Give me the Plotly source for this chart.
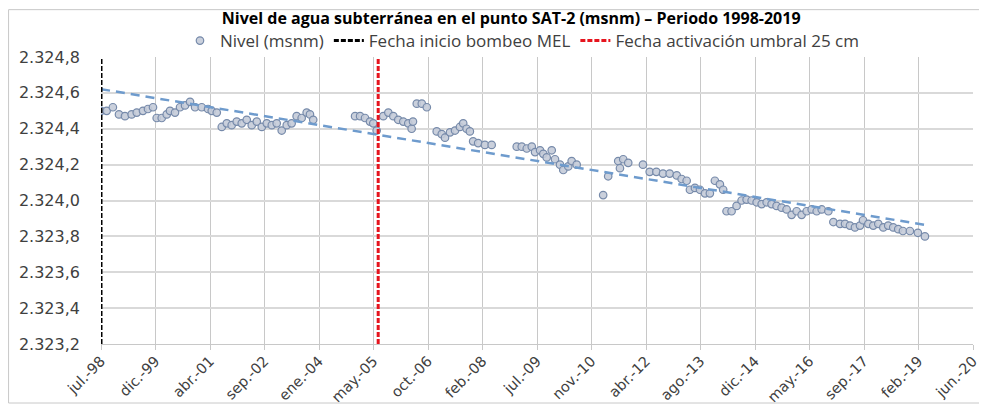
import numpy as np
import pandas as pd
import plotly.graph_objects as go

fechas = [
    "1998-07-25", "1998-09-14", "1998-11-10", "1999-01-05", "1999-03-01", "1999-05-01",
    "1999-06-17", "1999-08-13", "1999-09-28", "1999-11-13", "1999-12-17", "2000-02-01",
    "2000-03-18", "2000-04-17", "2000-06-02", "2000-07-18", "2000-09-02", "2000-10-18",
    "2000-12-03", "2001-02-02", "2001-04-01", "2001-05-05", "2001-06-20", "2001-08-05",
    "2001-09-20", "2001-11-04", "2001-12-20", "2002-02-04", "2002-03-22", "2002-05-07",
    "2002-06-22", "2002-08-07", "2002-09-22", "2002-11-07", "2002-12-22", "2003-02-06",
    "2003-03-24", "2003-05-08", "2003-06-23", "2003-08-08", "2003-09-23", "2003-10-23",
    "2003-11-22",
    "2004-12-10", "2005-01-25", "2005-03-11", "2005-04-26", "2005-05-26", "2005-06-26",
    "2005-08-26", "2005-10-11", "2005-11-26", "2006-01-10", "2006-02-25", "2006-04-12",
    "2006-05-13", "2006-05-25", "2006-06-29", "2006-08-14", "2006-09-29",
    "2006-12-29", "2007-02-13", "2007-03-15", "2007-04-30", "2007-06-15", "2007-07-30",
    "2007-08-29", "2007-09-29", "2007-10-29", "2007-11-28", "2008-01-13", "2008-03-15",
    "2008-05-16",
    "2009-01-01", "2009-02-16", "2009-04-03", "2009-05-19", "2009-06-18", "2009-08-03",
    "2009-09-02", "2009-10-03", "2009-11-18", "2009-12-18", "2010-02-02", "2010-03-04",
    "2010-04-19", "2010-05-20", "2010-07-05",
    "2011-03-05", "2011-04-20", "2011-07-21", "2011-08-06", "2011-09-05", "2011-10-21",
    "2012-03-04", "2012-05-05", "2012-07-05", "2012-09-04", "2012-11-04", "2013-01-08",
    "2013-02-22", "2013-04-09", "2013-05-09", "2013-06-24", "2013-08-09", "2013-09-24",
    "2013-11-08", "2013-12-24", "2014-02-08", "2014-03-10", "2014-04-10", "2014-05-26",
    "2014-07-11", "2014-08-26", "2014-10-11", "2014-11-26", "2015-01-11", "2015-02-26",
    "2015-04-13", "2015-05-28", "2015-07-13", "2015-08-28", "2015-10-13", "2015-11-28",
    "2016-01-13", "2016-02-28", "2016-04-14", "2016-05-30", "2016-07-15", "2016-08-30",
    "2016-10-30", "2016-12-15", "2017-02-14", "2017-04-01", "2017-05-16", "2017-07-01",
    "2017-08-16", "2017-09-13", "2017-11-01", "2017-12-16", "2018-01-31", "2018-03-18",
    "2018-05-02", "2018-06-17", "2018-08-02", "2018-09-14", "2018-11-17", "2019-01-29",
    "2019-04-04",
]
nivel = [
    2324.50, 2324.50, 2324.52, 2324.48, 2324.47, 2324.48,
    2324.49, 2324.50, 2324.51, 2324.52, 2324.46, 2324.46,
    2324.48, 2324.50, 2324.49, 2324.52, 2324.53, 2324.55,
    2324.52, 2324.52, 2324.51, 2324.50, 2324.49, 2324.41,
    2324.43, 2324.42, 2324.44, 2324.43, 2324.45, 2324.42,
    2324.44, 2324.41, 2324.43, 2324.42, 2324.43, 2324.39,
    2324.42, 2324.43, 2324.47, 2324.46, 2324.49, 2324.48,
    2324.45,
    2324.47, 2324.47, 2324.46, 2324.44, 2324.43, 2324.39,
    2324.47, 2324.49, 2324.47, 2324.45, 2324.44, 2324.43,
    2324.40, 2324.44, 2324.54, 2324.54, 2324.52,
    2324.385, 2324.37, 2324.35, 2324.38, 2324.39, 2324.41,
    2324.43, 2324.40, 2324.385, 2324.33, 2324.32, 2324.31,
    2324.31,
    2324.30, 2324.30, 2324.29, 2324.30, 2324.27, 2324.28,
    2324.26, 2324.24, 2324.28, 2324.23, 2324.20, 2324.17,
    2324.19, 2324.22, 2324.20,
    2324.03, 2324.135, 2324.22, 2324.18, 2324.23, 2324.21,
    2324.20, 2324.16, 2324.16, 2324.15, 2324.15, 2324.14,
    2324.12, 2324.11, 2324.06, 2324.07, 2324.06, 2324.04,
    2324.04, 2324.11, 2324.09, 2324.06, 2323.94, 2323.94,
    2323.97, 2324.00, 2324.005, 2324.00, 2323.99, 2323.98,
    2323.99, 2323.98, 2323.97, 2323.96, 2323.95, 2323.92,
    2323.94, 2323.92, 2323.94, 2323.95, 2323.94, 2323.95,
    2323.94, 2323.88, 2323.87, 2323.87, 2323.86, 2323.85,
    2323.86, 2323.89, 2323.87, 2323.86, 2323.87, 2323.85,
    2323.86, 2323.85, 2323.84, 2323.83, 2323.83, 2323.82,
    2323.80,
]

# Fechas de referencia
fecha_inicio_bombeo = "1998-07-24"
fecha_umbral = "2005-07-10"

# Eje X (fecha, unidad mayor de 500 dias) y eje Y
eje_inicio = "1998-07-24"
eje_paso_dias = 500
etiquetas_x = ["jul.-98", "dic.-99", "abr.-01", "sep.-02", "ene.-04", "may.-05",
               "oct.-06", "feb.-08", "jul.-09", "nov.-10", "abr.-12", "ago.-13",
               "dic.-14", "may.-16", "sep.-17", "feb.-19", "jun.-20"]
y_min, y_max, y_paso = 2323.2, 2324.8, 0.2

df = pd.DataFrame({"fecha": pd.to_datetime(fechas), "nivel": nivel})
ticks_x = pd.date_range(eje_inicio, periods=len(etiquetas_x), freq=f"{eje_paso_dias}D")

# Tendencia lineal (como la linea de tendencia de Excel)
dias = (df["fecha"] - df["fecha"].iloc[0]).dt.days.values
coef = np.polyfit(dias, df["nivel"].values, 1)
x_tend = df["fecha"].iloc[[0, -1]]
y_tend = np.polyval(coef, dias[[0, -1]])

fig = go.Figure()

fig.add_trace(go.Scatter(
    x=df["fecha"], y=df["nivel"], mode="markers", name="Nivel (msnm)",
    marker=dict(symbol="circle", size=7.5, color="rgba(196,203,216,0.9)",
                line=dict(color="rgb(118,138,170)", width=1.2)),
))
fig.add_trace(go.Scatter(
    x=x_tend, y=y_tend, mode="lines", showlegend=False,
    line=dict(color="rgb(110,155,205)", width=2.5, dash="9px,6px"),
))
fig.add_trace(go.Scatter(
    x=[fecha_inicio_bombeo, fecha_inicio_bombeo], y=[y_min, y_max], mode="lines",
    name="Fecha inicio bombeo MEL",
    line=dict(color="black", width=3, dash="5px,2px"),
))
fig.add_trace(go.Scatter(
    x=[fecha_umbral, fecha_umbral], y=[y_min, y_max], mode="lines",
    name="Fecha activación umbral 25 cm",
    line=dict(color="rgb(230,20,30)", width=3, dash="5px,2px"),
))

# Borde del grafico
fig.add_shape(type="rect", xref="paper", yref="paper",
              x0=-0.106, x1=1.009, y0=-0.2056, y1=1.165,
              line=dict(color="rgb(200,200,200)", width=1))

# la pagina tiene 8 px de margen en el body: figura de 979 x 398
fig.update_layout(
    width=979, height=398,
    margin=dict(l=93, r=14, t=49, b=62, autoexpand=False),
    paper_bgcolor="white", plot_bgcolor="white",
    separators=",.",
    font=dict(family="Open Sans", color="#404040"),
    title=dict(text="<b>Nivel de agua subterránea en el punto SAT-2 (msnm) – Periodo 1998-2019</b>",
               x=0.514, xref="container", xanchor="center",
               y=0.974, yref="container", yanchor="middle",
               font=dict(size=16, color="black")),
    legend=dict(orientation="h", xref="container", x=0.525, xanchor="center",
                yref="container", y=0.917, yanchor="middle",
                font=dict(size=17, color="#404040"), bgcolor="rgba(0,0,0,0)",
                itemwidth=30),
    showlegend=True,
)
fig.update_xaxes(
    type="date", range=[ticks_x[0], ticks_x[-1]], automargin=False,
    tickmode="array", tickvals=ticks_x, ticktext=etiquetas_x, tickangle=-45,
    showgrid=True, gridcolor="rgb(200,200,200)", gridwidth=1,
    ticks="outside", ticklen=5, tickcolor="rgb(200,200,200)",
    showline=True, linecolor="rgb(200,200,200)",
    tickfont=dict(family="DejaVu Sans", size=14.5, color="#404040"), ticklabelstandoff=-3,
)
fig.update_yaxes(
    range=[y_min, y_max], dtick=y_paso, tick0=y_min, tickformat=",.1f", automargin=False,
    showgrid=True, gridcolor="rgb(217,217,217)", gridwidth=1.5,
    zeroline=False, showline=False,
    tickfont=dict(family="DejaVu Sans", size=16, color="#404040"), ticklabelstandoff=20,
)

fig.write_html("out.html")
